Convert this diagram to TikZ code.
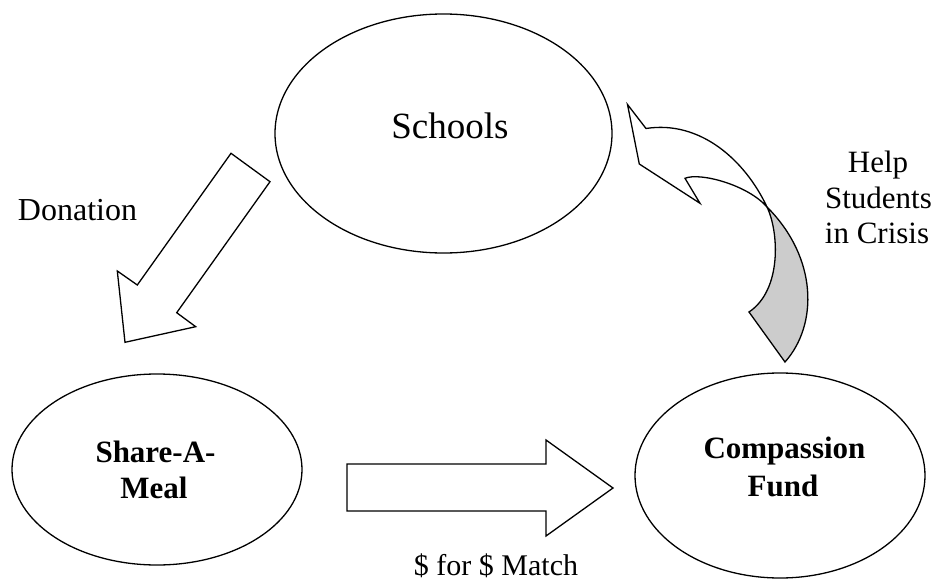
\documentclass[tikz,border=0pt]{standalone}
\usepackage{fontspec}
\setmainfont{Liberation Serif}
\usetikzlibrary{shapes.geometric}
\begin{document}
\begin{tikzpicture}[x=1pt,y=-1pt, line width=1.3pt, line join=miter,
  oval/.style={ellipse, draw, inner sep=0pt},
  blockarrow/.style={draw, fill=white, line join=miter},
  lbl/.style={anchor=base, inner sep=0pt},
  bigtxt/.style={font=\fontsize{37}{44}\selectfont},
  midtxt/.style={font=\fontsize{31}{36}\selectfont},
  boldtxt/.style={font=\fontsize{31}{36}\selectfont\bfseries},
]
\useasboundingbox (0,0) rectangle (938,581);

% ellipses
\node[oval, minimum width=337pt, minimum height=239pt] (schools) at (443.5,133.5) {};
\node[oval, minimum width=290pt, minimum height=191pt] (sam) at (157,469.5) {};
\node[oval, minimum width=290pt, minimum height=205pt] (cf) at (780,475.5) {};

% ellipse texts
\node[lbl, bigtxt] (tschools) at (450,138) {Schools};
\node[lbl, boldtxt] (tsam1) at (155.5,462) {Share-A-};
\node[lbl, boldtxt] (tsam2) at (154,498) {Meal};
\node[lbl, boldtxt] (tcf1) at (784.5,458) {Compassion};
\node[lbl, boldtxt] (tcf2) at (783,496) {Fund};

% donation arrow
\coordinate (d1) at (231,153.3);
\coordinate (d2) at (270,181.7);
\coordinate (d3) at (176.7,312.7);
\coordinate (d4) at (195.7,326.7);
\coordinate (d5) at (125,342.3);
\coordinate (d6) at (117.3,271);
\coordinate (d7) at (137.3,285);
\draw[blockarrow] (d1) -- (d2) -- (d3) -- (d4) -- (d5) -- (d6) -- (d7) -- cycle;

% match arrow
\coordinate (m1) at (347,464);
\coordinate (m2) at (546,464);
\coordinate (m3) at (546,440);
\coordinate (m4) at (613,488);
\coordinate (m5) at (546,536);
\coordinate (m6) at (546,511);
\coordinate (m7) at (347,511);
\draw[blockarrow] (m1) -- (m2) -- (m3) -- (m4) -- (m5) -- (m6) -- (m7) -- cycle;

% curved arrow
\coordinate (tip) at (627.5,104.5);
\coordinate (b1) at (646,128.5);
\coordinate (b2) at (639.3,164);
\coordinate (nt) at (700,203.3);
\coordinate (ii) at (685,178.3);
\coordinate (cc) at (767,207);
\coordinate (ll) at (749,312);
\coordinate (rr) at (785,362);
\draw[fill=black!20] (cc) .. controls (779,232) and (782,290) .. (ll) -- (rr)
  .. controls (818,325) and (818,258) .. (cc) -- cycle;
\draw[fill=white] (tip) -- (b1) .. controls (700,120) and (745,160) .. (cc)
  .. controls (748,185) and (700,172) .. (ii) -- (nt) -- (b2) -- cycle;

% labels
\node[lbl, midtxt, font=\fontsize{32}{38}\selectfont] (tdon) at (77.5,220) {Donation};
\node[lbl, midtxt, font=\fontsize{30}{36}\selectfont] (tmatch) at (496,575) {\$ for \$ Match};
\node[lbl, midtxt] (thelp1) at (878,172) {Help};
\node[lbl, midtxt] (thelp2) at (878.5,208) {Students};
\begin{scope}
\clip (790,210) rectangle (938,243.5);
\node[lbl, midtxt] (thelp3) at (877,243) {in Crisis};
\end{scope}
\end{tikzpicture}
\end{document}
